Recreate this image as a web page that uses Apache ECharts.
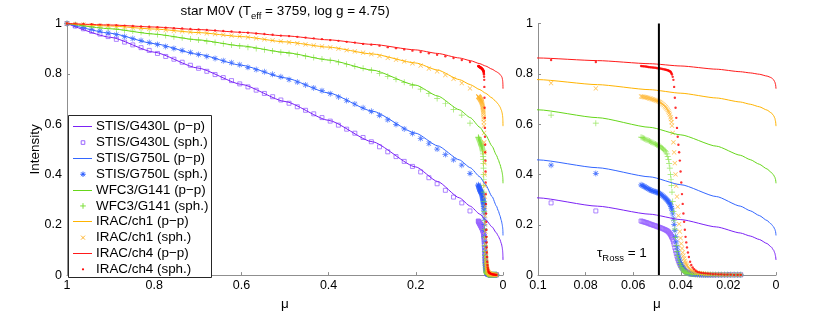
<!DOCTYPE html>
<html><head><meta charset="utf-8">
<script src="https://cdn.jsdelivr.net/npm/echarts@6/dist/echarts.min.js"></script>
<style>html,body{margin:0;padding:0;background:#fff}#c{width:830px;height:316px}</style>
</head><body><div id="c"></div>
<script>
// ---------- data ----------
// plane-parallel (p-p) curves, sampled in mu
const ppMu = [1, 0.9, 0.8, 0.7, 0.6, 0.5, 0.4, 0.3, 0.2, 0.15, 0.1, 0.075, 0.053, 0.04, 0.025, 0.015, 0.0108, 0.007, 0.0038, 0.002, 0.001, 0.0005, 0.0002, 0];
const ppG430L = [1, 0.945, 0.886, 0.823, 0.758, 0.690, 0.615, 0.530, 0.430, 0.372, 0.307, 0.274, 0.2421, 0.2206, 0.1914, 0.1674, 0.1552, 0.1415, 0.1255, 0.112, 0.099, 0.088, 0.076, 0.060];
const ppG750L = [1, 0.961, 0.920, 0.878, 0.834, 0.784, 0.724, 0.652, 0.564, 0.514, 0.458, 0.4268, 0.3905, 0.3593, 0.3121, 0.2741, 0.2556, 0.2366, 0.2171, 0.2029, 0.1914, 0.1824, 0.1737, 0.1577];
const ppG141 = [1, 0.979, 0.958, 0.935, 0.911, 0.885, 0.855, 0.815, 0.755, 0.712, 0.657, 0.6258, 0.5873, 0.5574, 0.5124, 0.4764, 0.4588, 0.4406, 0.4220, 0.4085, 0.3975, 0.389, 0.3806, 0.365];
const ppCh1 = [1, 0.990, 0.978, 0.964, 0.948, 0.927, 0.906, 0.879, 0.843, 0.815, 0.777, 0.757, 0.737, 0.723, 0.704, 0.688, 0.679, 0.669, 0.656, 0.645, 0.634, 0.624, 0.612, 0.592];
const ppCh4 = [1, 0.994, 0.986, 0.976, 0.965, 0.951, 0.935, 0.917, 0.895, 0.881, 0.863, 0.8525, 0.8402, 0.8311, 0.8184, 0.8084, 0.8036, 0.7983, 0.791, 0.785, 0.776, 0.768, 0.758, 0.741];

// spherical (sph.) models: coarse mu grid + dense grid near the limb
const sphMuCoarse = [1.0000, 0.9811, 0.9623, 0.9434, 0.9245, 0.9057, 0.8868, 0.8679, 0.8491, 0.8302,
  0.8114, 0.7925, 0.7736, 0.7548, 0.7359, 0.7170, 0.6982, 0.6793, 0.6604, 0.6416,
  0.6227, 0.6038, 0.5850, 0.5661, 0.5473, 0.5284, 0.5095, 0.4907, 0.4718, 0.4529,
  0.4341, 0.4152, 0.3963, 0.3775, 0.3586, 0.3398, 0.3209, 0.3020, 0.2832, 0.2643,
  0.2454, 0.2266, 0.2077, 0.1888, 0.1700, 0.1511, 0.1322, 0.1134, 0.0945, 0.0757];
const sphMuFine = [0.0567, 0.0562, 0.0557, 0.0552, 0.0547, 0.0542, 0.0537, 0.0532, 0.0527, 0.0522,
  0.0517, 0.0512, 0.0507, 0.0502, 0.0497, 0.0492, 0.0487, 0.0482, 0.0477, 0.0472,
  0.0467, 0.0463, 0.0459, 0.0455, 0.0452, 0.0449, 0.0446, 0.0443, 0.0441, 0.0439, 0.0437,
  0.0434, 0.0431, 0.0428, 0.0425, 0.0422, 0.0419, 0.0416, 0.0413, 0.0410, 0.0407, 0.0404, 0.0401, 0.0398, 0.0395, 0.0392, 0.0389, 0.0386, 0.0383, 0.0380, 0.0377, 0.0374,
  0.0370, 0.0366, 0.0361, 0.0356, 0.0350, 0.0344, 0.0337, 0.0330, 0.0322, 0.0314, 0.0305, 0.0296, 0.0286, 0.0276, 0.0265, 0.0254, 0.0242, 0.0230, 0.0217, 0.0204, 0.0190, 0.0176, 0.0161, 0.0148];

const sphG430LCoarse = [1.000, 0.990, 0.979, 0.969, 0.958, 0.948, 0.937, 0.926, 0.915, 0.904,
  0.893, 0.881, 0.869, 0.858, 0.846, 0.834, 0.822, 0.810, 0.797, 0.785,
  0.773, 0.760, 0.748, 0.735, 0.722, 0.709, 0.696, 0.683, 0.669, 0.655,
  0.641, 0.626, 0.612, 0.596, 0.580, 0.564, 0.547, 0.530, 0.510, 0.490,
  0.471, 0.452, 0.432, 0.410, 0.387, 0.363, 0.337, 0.310, 0.287, 0.255];
const sphG430LFine = [0.215, 0.2135, 0.212, 0.2105, 0.209, 0.2075, 0.206, 0.204, 0.202, 0.2005,
  0.199, 0.1975, 0.196, 0.194, 0.192, 0.1905, 0.189, 0.187, 0.185, 0.183,
  0.181, 0.179, 0.177, 0.1745, 0.172, 0.1685, 0.165, 0.161, 0.157, 0.153, 0.149,
  0.142, 0.132, 0.122, 0.109, 0.097, 0.086, 0.075, 0.065, 0.057, 0.050, 0.043, 0.038, 0.033, 0.029, 0.025, 0.022, 0.019, 0.016, 0.014, 0.012, 0.010,
  0.008, 0.007, 0.005, 0.004, 0.004, 0.003, 0.003, 0.002, 0.002, 0.001, 0.001, 0.001, 0.001, 0.001, 0.001, 0.001, 0.001, 0.001, 0.001, 0.001, 0.001, 0.001, 0.001, 0.001];

const sphG750LCoarse = [1.000, 0.993, 0.985, 0.978, 0.971, 0.963, 0.956, 0.948, 0.940, 0.932,
  0.924, 0.917, 0.909, 0.901, 0.893, 0.885, 0.877, 0.869, 0.861, 0.852,
  0.844, 0.836, 0.826, 0.817, 0.808, 0.798, 0.788, 0.777, 0.767, 0.756,
  0.744, 0.733, 0.721, 0.708, 0.694, 0.680, 0.665, 0.651, 0.635, 0.617,
  0.599, 0.581, 0.563, 0.543, 0.523, 0.501, 0.479, 0.458, 0.437, 0.404];
const sphG750LFine = [0.359, 0.3565, 0.354, 0.3515, 0.349, 0.346, 0.343, 0.3405, 0.338, 0.336,
  0.334, 0.3325, 0.331, 0.3295, 0.328, 0.3255, 0.323, 0.3195, 0.316, 0.312,
  0.308, 0.304, 0.300, 0.296, 0.292, 0.288, 0.284, 0.279, 0.273, 0.266, 0.258,
  0.243, 0.223, 0.202, 0.178, 0.154, 0.132, 0.112, 0.095, 0.080, 0.069, 0.060, 0.051, 0.044, 0.038, 0.033, 0.028, 0.024, 0.020, 0.017, 0.014, 0.012,
  0.010, 0.008, 0.007, 0.006, 0.005, 0.004, 0.003, 0.003, 0.002, 0.002, 0.002, 0.001, 0.001, 0.001, 0.001, 0.001, 0.001, 0.001, 0.001, 0.001, 0.001, 0.001, 0.001, 0.001];

const sphG141Coarse = [1.000, 0.996, 0.993, 0.989, 0.986, 0.982, 0.978, 0.974, 0.970, 0.965,
  0.961, 0.956, 0.952, 0.947, 0.943, 0.938, 0.934, 0.929, 0.924, 0.920,
  0.915, 0.911, 0.906, 0.901, 0.896, 0.891, 0.886, 0.881, 0.876, 0.870,
  0.865, 0.859, 0.853, 0.846, 0.838, 0.830, 0.822, 0.814, 0.802, 0.790,
  0.778, 0.766, 0.754, 0.739, 0.721, 0.702, 0.681, 0.658, 0.636, 0.604];
const sphG141Fine = [0.548, 0.546, 0.544, 0.5415, 0.539, 0.537, 0.535, 0.5325, 0.530, 0.528,
  0.526, 0.5235, 0.521, 0.5185, 0.516, 0.5135, 0.511, 0.5075, 0.504, 0.500,
  0.496, 0.490, 0.482, 0.471, 0.459, 0.444, 0.425, 0.400, 0.381, 0.357, 0.330,
  0.293, 0.253, 0.218, 0.183, 0.150, 0.118, 0.094, 0.078, 0.066, 0.056, 0.047, 0.039, 0.031, 0.025, 0.021, 0.017, 0.014, 0.012, 0.010, 0.009, 0.008,
  0.007, 0.006, 0.005, 0.004, 0.004, 0.003, 0.003, 0.002, 0.002, 0.002, 0.002, 0.001, 0.001, 0.001, 0.001, 0.001, 0.001, 0.001, 0.001, 0.001, 0.001, 0.001, 0.001, 0.001];

const sphCh1Coarse = [1.000, 0.998, 0.996, 0.994, 0.992, 0.991, 0.988, 0.986, 0.984, 0.982,
  0.979, 0.977, 0.974, 0.971, 0.969, 0.966, 0.964, 0.961, 0.958, 0.955,
  0.952, 0.949, 0.945, 0.941, 0.937, 0.933, 0.929, 0.925, 0.921, 0.917,
  0.913, 0.909, 0.905, 0.900, 0.894, 0.889, 0.884, 0.878, 0.871, 0.863,
  0.856, 0.849, 0.842, 0.833, 0.821, 0.810, 0.795, 0.780, 0.763, 0.742];
const sphCh1Fine = [0.710, 0.709, 0.708, 0.707, 0.706, 0.705, 0.704, 0.7025, 0.701, 0.6995,
  0.698, 0.6965, 0.695, 0.693, 0.691, 0.689, 0.687, 0.684, 0.680, 0.676,
  0.671, 0.667, 0.662, 0.6565, 0.651, 0.645, 0.638, 0.628, 0.620, 0.608, 0.594,
  0.565, 0.528, 0.488, 0.445, 0.400, 0.355, 0.312, 0.272, 0.236, 0.203, 0.173, 0.147, 0.125, 0.106, 0.090, 0.077, 0.066, 0.057, 0.049, 0.043, 0.038,
  0.032, 0.027, 0.023, 0.019, 0.016, 0.013, 0.011, 0.009, 0.008, 0.007, 0.006, 0.005, 0.004, 0.004, 0.003, 0.003, 0.002, 0.002, 0.002, 0.001, 0.001, 0.001, 0.001, 0.001];

const sphCh4Coarse = [1.000, 0.999, 0.998, 0.997, 0.995, 0.994, 0.993, 0.991, 0.990, 0.988,
  0.987, 0.985, 0.983, 0.981, 0.980, 0.978, 0.976, 0.974, 0.972, 0.970,
  0.968, 0.965, 0.963, 0.960, 0.958, 0.955, 0.952, 0.950, 0.947, 0.944,
  0.941, 0.938, 0.934, 0.931, 0.927, 0.924, 0.919, 0.916, 0.912, 0.906,
  0.902, 0.897, 0.892, 0.887, 0.882, 0.876, 0.870, 0.863, 0.855, 0.847];
const sphCh4Fine = [0.831, 0.8305, 0.830, 0.8295, 0.829, 0.828, 0.827, 0.8265, 0.826, 0.8255,
  0.825, 0.8245, 0.824, 0.823, 0.822, 0.8215, 0.821, 0.820, 0.819, 0.818,
  0.817, 0.816, 0.815, 0.814, 0.813, 0.8115, 0.810, 0.808, 0.805, 0.801, 0.797,
  0.788, 0.776, 0.748, 0.705, 0.665, 0.625, 0.585, 0.550, 0.518, 0.488, 0.455, 0.412, 0.368, 0.322, 0.283, 0.245, 0.212, 0.180, 0.152, 0.130, 0.110,
  0.090, 0.072, 0.053, 0.040, 0.030, 0.023, 0.017, 0.013, 0.011, 0.009, 0.008, 0.007, 0.006, 0.005, 0.004, 0.004, 0.003, 0.003, 0.002, 0.002, 0.002, 0.001, 0.001, 0.001];

const tauRossMu = 0.0492;           // mu where tau_Ross = 1
const tauLineI = [0, 1];

const legendNames = ['STIS/G430L (p\u2212p)', 'STIS/G430L (sph.)', 'STIS/G750L (p\u2212p)', 'STIS/G750L (sph.)',
  'WFC3/G141 (p\u2212p)', 'WFC3/G141 (sph.)', 'IRAC/ch1 (p\u2212p)', 'IRAC/ch1 (sph.)', 'IRAC/ch4 (p\u2212p)', 'IRAC/ch4 (sph.)'];

// ---------- styles ----------
const FONT = '"Liberation Sans", Arial, Helvetica, sans-serif';
const AX = '#8f8f8f';
const PLUS = 'path://M-0.6,-5L0.6,-5L0.6,-0.6L5,-0.6L5,0.6L0.6,0.6L0.6,5L-0.6,5L-0.6,0.6L-5,0.6L-5,-0.6L-0.6,-0.6Z';
const STAR = 'path://M-0.6,-5L0.6,-5L0.6,-0.6L5,-0.6L5,0.6L0.6,0.6L0.6,5L-0.6,5L-0.6,0.6L-5,0.6L-5,-0.6L-0.6,-0.6Z M-4,-3.2L-3.2,-4L4,3.2L3.2,4Z M3.2,-4L4,-3.2L-3.2,4L-4,3.2Z';

const bands = [
  {ppName: legendNames[0], sphName: legendNames[1], lineColor: '#7b22f5', markColor: '#9a66ff', pp: ppG430L, c: sphG430LCoarse, f: sphG430LFine, symbol: 'rect', size: 4, rot: 0, hollow: true, key: 'rect'},
  {ppName: legendNames[2], sphName: legendNames[3], lineColor: '#3366ff', markColor: '#2a5cff', pp: ppG750L, c: sphG750LCoarse, f: sphG750LFine, symbol: STAR, size: 6, rot: 0, key: 'star'},
  {ppName: legendNames[4], sphName: legendNames[5], lineColor: '#66d61a', markColor: '#7ee03a', pp: ppG141, c: sphG141Coarse, f: sphG141Fine, symbol: PLUS, size: 6, rot: 0, key: 'plus'},
  {ppName: legendNames[6], sphName: legendNames[7], lineColor: '#ffb300', markColor: '#ffb52e', pp: ppCh1, c: sphCh1Coarse, f: sphCh1Fine, symbol: PLUS, size: 6, rot: 45, key: 'x'},
  {ppName: legendNames[8], sphName: legendNames[9], lineColor: '#ff1a1a', markColor: '#ff0000', pp: ppCh4, c: sphCh4Coarse, f: sphCh4Fine, symbol: 'circle', size: 2.4, rot: 0, key: 'dot'}
];

const series = [];
[0, 1].forEach(g => {
  bands.forEach(b => {
    series.push({
      type: 'line', name: b.ppName, xAxisIndex: g, yAxisIndex: g,
      data: ppMu.map((m, i) => [m, b.pp[i]]),
      symbol: 'none', smooth: 0.2, smoothMonotone: 'x', clip: true,
      lineStyle: {color: b.lineColor, width: 1}, itemStyle: {color: b.lineColor},
      silent: true, animation: false
    });
    const mus = sphMuCoarse.concat(sphMuFine);
    const vals = b.c.concat(b.f);
    series.push({
      type: 'scatter', name: b.sphName, xAxisIndex: g, yAxisIndex: g,
      data: mus.map((m, i) => [m, vals[i]]),
      symbol: b.symbol, symbolSize: b.size, symbolRotate: b.rot, clip: true,
      itemStyle: b.hollow ? {color: 'rgba(255,255,255,0)', borderColor: b.markColor, borderWidth: 1} : {color: b.markColor},
      silent: true, animation: false
    });
  });
});
series.push({
  type: 'line', name: 'tau', xAxisIndex: 1, yAxisIndex: 1, z: 5,
  data: tauLineI.map(v => [tauRossMu, v]), symbol: 'none',
  lineStyle: {color: '#000', width: 2}, silent: true, animation: false
});

// ---------- legend box (drawn as graphic, MATLAB style) ----------
const LG = {x: 68.5, y: 115.5, w: 143, h: 162, row0: 126.7, dy: 15.85, x1: 73, x2: 92, sx: 83, tx: 96, fs: 13.4};
const legendEls = [{type: 'rect', z: 100, silent: true, shape: {x: LG.x, y: LG.y, width: LG.w, height: LG.h},
  style: {fill: '#fff', stroke: '#262626', lineWidth: 1}}];
function seg(x1, y1, x2, y2, c, w) {
  return {type: 'line', z: 101, silent: true, shape: {x1, y1, x2, y2}, style: {stroke: c, lineWidth: w}};
}
bands.forEach((b, k) => {
  const yl = LG.row0 + (2 * k) * LG.dy, ys = LG.row0 + (2 * k + 1) * LG.dy;
  const ylc = Math.floor(yl) + 0.5;
  legendEls.push(seg(LG.x1, ylc, LG.x2, ylc, b.lineColor, 1));
  const c = b.markColor, x = LG.sx, y = ys;
  if (b.key === 'rect') legendEls.push({type: 'rect', z: 101, silent: true, shape: {x: x - 1.8, y: y - 1.8, width: 3.6, height: 3.6}, style: {fill: 'none', stroke: c, lineWidth: 1}});
  if (b.key === 'star') { legendEls.push(seg(x - 2.7, y, x + 2.7, y, c, 1), seg(x, y - 2.7, x, y + 2.7, c, 1), seg(x - 1.9, y - 1.9, x + 1.9, y + 1.9, c, 1), seg(x - 1.9, y + 1.9, x + 1.9, y - 1.9, c, 1)); }
  if (b.key === 'plus') { legendEls.push(seg(x - 2.8, y, x + 2.8, y, c, 1), seg(x, y - 2.8, x, y + 2.8, c, 1)); }
  if (b.key === 'x') { legendEls.push(seg(x - 2, y - 2, x + 2, y + 2, c, 1), seg(x - 2, y + 2, x + 2, y - 2, c, 1)); }
  if (b.key === 'dot') legendEls.push({type: 'circle', z: 101, silent: true, shape: {cx: x, cy: y, r: 1.1}, style: {fill: c}});
  [[b.ppName, yl], [b.sphName, ys]].forEach(([t, yy]) => legendEls.push({type: 'text', z: 101, silent: true,
    style: {x: LG.tx, y: yy, text: t, fontSize: LG.fs, fontFamily: FONT, fill: '#000', align: 'left', verticalAlign: 'middle'}}));
});

const TICK_FS = 12.5;
function axisCommon() {
  return {
    type: 'value', min: 0,
    axisLine: {show: true, onZero: false, lineStyle: {color: AX, width: 1}},
    axisTick: {show: true, inside: true, length: 3, lineStyle: {color: AX}},
    splitLine: {show: false},
    nameTextStyle: {color: '#000', fontSize: 13.5, fontFamily: FONT}
  };
}
const fmt = v => String(+v.toFixed(2));
const lbl = m => ({color: '#000', fontSize: TICK_FS, fontFamily: FONT, margin: m, formatter: fmt});

const option = {
  animation: false,
  backgroundColor: '#fff',
  grid: [
    {left: 67, top: 23.5, width: 436, height: 257.5},
    {left: 538, top: 23.5, width: 238, height: 257.5}
  ],
  xAxis: [
    Object.assign(axisCommon(), {gridIndex: 0, max: 1, interval: 0.2, inverse: true, name: '\u03bc', nameLocation: 'middle', nameGap: 18, axisLabel: lbl(4)}),
    Object.assign(axisCommon(), {gridIndex: 1, max: 0.1, interval: 0.02, inverse: true, name: '\u03bc', nameLocation: 'middle', nameGap: 18, axisLabel: lbl(4)})
  ],
  yAxis: [
    Object.assign(axisCommon(), {gridIndex: 0, max: 1, interval: 0.2, name: 'Intensity', nameLocation: 'middle', nameGap: 24.5, nameMoveOverlap: false, axisLabel: lbl(5)}),
    Object.assign(axisCommon(), {gridIndex: 1, max: 1, interval: 0.2, axisLabel: lbl(5)})
  ],
  graphic: [
    {type: 'text', z: 10, silent: true,
      style: {x: 285, y: 4, align: 'center', verticalAlign: 'top',
        text: '{a|star M0V (T}{b|eff}{a| = 3759, log g = 4.75)}',
        rich: {a: {fontSize: 13.5, fontFamily: FONT, fill: '#000', lineHeight: 15, verticalAlign: 'top'},
               b: {fontSize: 9.5, fontFamily: FONT, fill: '#000', lineHeight: 10, verticalAlign: 'top', padding: [7.5, 0, 0, 0]}}}},
    {type: 'text', z: 10, silent: true,
      style: {x: 597, y: 246, align: 'left', verticalAlign: 'top',
        text: '{a|\u03c4}{b|Ross}{a| = 1}',
        rich: {a: {fontSize: 13.5, fontFamily: FONT, fill: '#000', lineHeight: 15, verticalAlign: 'top'},
               b: {fontSize: 9.5, fontFamily: FONT, fill: '#000', lineHeight: 10, verticalAlign: 'top', padding: [7, 0, 0, 0]}}}}
  ].concat(legendEls),
  series: series
};
const chart = echarts.init(document.getElementById('c'), null, {renderer: 'canvas'});
chart.setOption(option);
</script></body></html>
